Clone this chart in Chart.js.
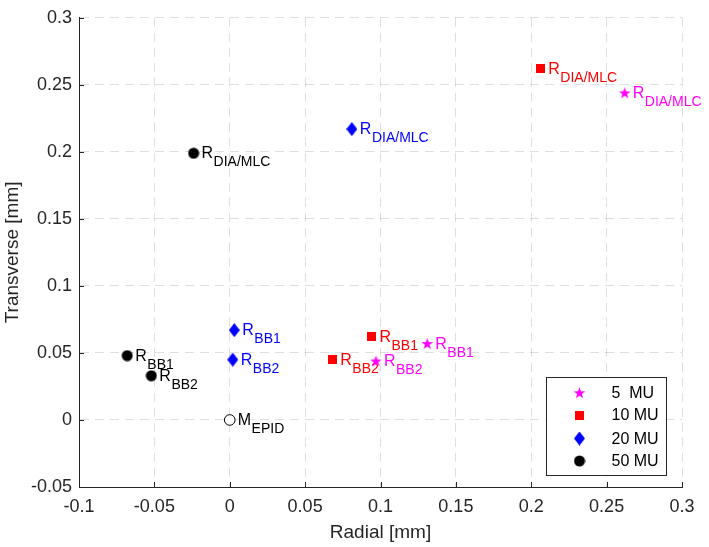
<!DOCTYPE html>
<html><head><meta charset="utf-8">
<script src="https://cdn.jsdelivr.net/npm/chart.js@4/dist/chart.umd.min.js"></script>
<style>html,body{margin:0;padding:0;background:#fff;overflow:hidden;}</style>
</head><body>
<canvas id="c" width="709" height="547"></canvas>
<script>
// ---- data ----
const seriesNames = ['5  MU', '10 MU', '20 MU', '50 MU'];
const mu5X = [0.262, 0.131, 0.097];
const mu5Y = [0.244, 0.057, 0.044];
const mu5Labels = ['R_DIA/MLC', 'R_BB1', 'R_BB2'];
const mu10X = [0.206, 0.094, 0.068];
const mu10Y = [0.262, 0.062, 0.045];
const mu10Labels = ['R_DIA/MLC', 'R_BB1', 'R_BB2'];
const mu20X = [0.081, 0.003, 0.002];
const mu20Y = [0.217, 0.067, 0.045];
const mu20Labels = ['R_DIA/MLC', 'R_BB1', 'R_BB2'];
const mu50X = [-0.024, -0.068, -0.052];
const mu50Y = [0.199, 0.048, 0.033];
const mu50Labels = ['R_DIA/MLC', 'R_BB1', 'R_BB2'];
const epidX = [0];
const epidY = [0];
const epidLabels = ['M_EPID'];
const xTickLabels = ['-0.1', '-0.05', '0', '0.05', '0.1', '0.15', '0.2', '0.25', '0.3'];
const yTickLabels = ['-0.05', '0', '0.05', '0.1', '0.15', '0.2', '0.25', '0.3'];
const xTitle = 'Radial [mm]';
const yTitle = 'Transverse [mm]';

// ---- styles ----
const FONT = 'Liberation Sans, Arial, Helvetica, sans-serif';
const AXIS_COLOR = '#262626';
const colors = ['#ff00ff', '#ff0000', '#0000ff', '#000000'];

function mk(w, h, draw) {
  const c = document.createElement('canvas');
  c.width = w; c.height = h;
  const g = c.getContext('2d');
  draw(g, w, h);
  return c;
}
function starMarker(color, R) {
  const s = Math.ceil(R * 2 + 2);
  return mk(s, s, (g) => {
    const cx = s / 2, cy = s / 2 + 0.6;
    g.beginPath();
    for (let i = 0; i < 10; i++) {
      const r = i % 2 === 0 ? R : R * 0.40;
      const a = -Math.PI / 2 + i * Math.PI / 5;
      const px = cx + r * Math.cos(a), py = cy + r * Math.sin(a);
      if (i === 0) g.moveTo(px, py); else g.lineTo(px, py);
    }
    g.closePath(); g.fillStyle = color; g.fill();
  });
}
function squareMarker(color, s) {
  return mk(s, s, (g) => { g.fillStyle = color; g.fillRect(0, 0, s, s); });
}
function diamondMarker(color, w, h) {
  return mk(w, h, (g) => {
    g.beginPath(); g.moveTo(w / 2, 0); g.lineTo(w, h / 2); g.lineTo(w / 2, h); g.lineTo(0, h / 2);
    g.closePath(); g.fillStyle = color; g.fill();
  });
}
function circleMarker(color, r) {
  const s = Math.ceil(r * 2 + 1);
  return mk(s, s, (g) => {
    g.beginPath(); g.arc(s / 2, s / 2, r, 0, Math.PI * 2); g.fillStyle = color; g.fill();
  });
}
const markers = [
  starMarker(colors[0], 6.2),
  squareMarker(colors[1], 9),
  diamondMarker(colors[2], 11, 14),
  circleMarker(colors[3], 5.5)
];

function pts(xs, ys) { return xs.map((x, i) => ({ x: x, y: ys[i] })); }

const datasets = [
  { label: seriesNames[0], data: pts(mu5X, mu5Y), pointLabels: mu5Labels, pointStyle: markers[0], color: colors[0] },
  { label: seriesNames[1], data: pts(mu10X, mu10Y), pointLabels: mu10Labels, pointStyle: markers[1], color: colors[1] },
  { label: seriesNames[2], data: pts(mu20X, mu20Y), pointLabels: mu20Labels, pointStyle: markers[2], color: colors[2] },
  { label: seriesNames[3], data: pts(mu50X, mu50Y), pointLabels: mu50Labels, pointStyle: markers[3], color: colors[3] },
  { label: 'EPID', data: pts(epidX, epidY), pointLabels: epidLabels, pointStyle: 'circle', color: '#000000',
    pointRadius: 5.3, pointBackgroundColor: '#ffffff', pointBorderColor: '#000000', pointBorderWidth: 1, inLegend: false }
].map(d => Object.assign({
  showLine: false,
  pointRadius: 6,
  pointHoverRadius: 6,
  pointBackgroundColor: d.color,
  pointBorderColor: d.color,
  pointBorderWidth: 0,
  inLegend: true
}, d));

// ---- plugins ----
const labelPlugin = {
  id: 'pointLabelsSub',
  afterDatasetDraw(chart, args) {
    const ds = chart.data.datasets[args.index];
    const ctx = chart.ctx;
    ctx.save();
    ctx.fillStyle = ds.color;
    ctx.textAlign = 'left';
    ctx.textBaseline = 'alphabetic';
    args.meta.data.forEach((el, i) => {
      const parts = ds.pointLabels[i].split('_');
      const x0 = el.x + 8;
      ctx.font = '16px ' + FONT;
      ctx.fillText(parts[0], x0, el.y + 5);
      const w = ctx.measureText(parts[0]).width;
      ctx.font = '14px ' + FONT;
      ctx.fillText(parts[1], x0 + w + 0.5, el.y + 13);
    });
    ctx.restore();
  }
};

const tickMarkPlugin = {
  id: 'inwardTicks',
  afterDatasetsDraw(chart) {
    const ctx = chart.ctx, a = chart.chartArea;
    const xs = chart.scales.x, ys = chart.scales.y;
    ctx.save();
    ctx.strokeStyle = AXIS_COLOR; ctx.lineWidth = 1;
    ctx.beginPath();
    xs.ticks.forEach(t => { const px = Math.round(xs.getPixelForValue(t.value)) + 0.5; ctx.moveTo(px, a.bottom); ctx.lineTo(px, a.bottom - 5); });
    ys.ticks.forEach(t => { const py = Math.round(ys.getPixelForValue(t.value)) + 0.5; ctx.moveTo(a.left, py); ctx.lineTo(a.left + 5, py); });
    ctx.stroke();
    ctx.restore();
  }
};

const legendPlugin = {
  id: 'boxLegend',
  afterDraw(chart) {
    const ctx = chart.ctx;
    const items = chart.data.datasets.filter(d => d.inLegend);
    const bx = 546.5, by = 377.5, bw = 120, bh = 98;
    ctx.save();
    ctx.fillStyle = '#ffffff';
    ctx.fillRect(bx, by, bw, bh);
    ctx.strokeStyle = AXIS_COLOR; ctx.lineWidth = 1;
    ctx.strokeRect(bx, by, bw, bh);
    const rowY = [392.7, 415, 438.5, 461];
    ctx.font = '16px ' + FONT;
    ctx.textBaseline = 'middle';
    ctx.fillStyle = '#000000';
    items.forEach((d, i) => {
      const m = d.pointStyle;
      const cy = rowY[i];
      ctx.drawImage(m, 579.5 - m.width / 2, cy - m.height / 2);
      ctx.fillStyle = '#000000';
      ctx.fillText(d.label, 611.5, cy + 1);
    });
    ctx.restore();
  }
};

new Chart(document.getElementById('c'), {
  type: 'scatter',
  data: { datasets: datasets },
  options: {
    responsive: false,
    animation: false,
    devicePixelRatio: 1,
    layout: { padding: { left: 0, right: 27, top: 10, bottom: 0 } },
    plugins: { legend: { display: false }, tooltip: { enabled: false } },
    scales: {
      x: {
        type: 'linear', min: -0.1, max: 0.3,
        afterBuildTicks: s => { s.ticks = xTickLabels.map(t => ({ value: parseFloat(t) })); },
        afterFit: s => { s.height = 60; },
        ticks: { callback: (v, i) => xTickLabels[i], font: { family: FONT, size: 18 }, color: AXIS_COLOR, padding: 9, maxRotation: 0, autoSkip: false },
        grid: { color: 'rgba(38,38,38,0.15)', drawTicks: false, lineWidth: 1 },
        border: { display: true, color: AXIS_COLOR, width: 1, dash: [9, 6] },
        title: { display: true, text: xTitle, font: { family: FONT, size: 19 }, color: AXIS_COLOR, padding: { top: 0, bottom: 2.5 } }
      },
      y: {
        type: 'linear', min: -0.05, max: 0.3,
        afterBuildTicks: s => { s.ticks = yTickLabels.map(t => ({ value: parseFloat(t) })); },
        afterFit: s => { s.width = 79; },
        ticks: { callback: (v, i) => yTickLabels[i], font: { family: FONT, size: 18 }, color: AXIS_COLOR, padding: 7, autoSkip: false },
        grid: { color: 'rgba(38,38,38,0.15)', drawTicks: false, lineWidth: 1 },
        border: { display: true, color: AXIS_COLOR, width: 1, dash: [9, 6] },
        title: { display: true, text: yTitle, font: { family: FONT, size: 19 }, color: AXIS_COLOR, padding: { top: 1, bottom: 0 } }
      }
    }
  },
  plugins: [labelPlugin, tickMarkPlugin, legendPlugin]
});
</script>
</body></html>
